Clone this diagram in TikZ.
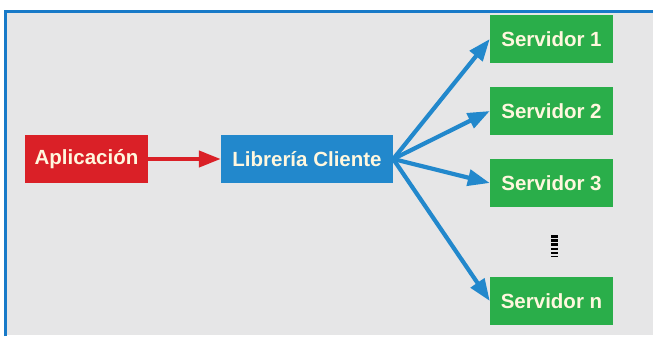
\documentclass[tikz,border=0pt]{standalone}
\usepackage{fontspec}
\setmainfont{Liberation Sans}
\usetikzlibrary{arrows.meta}
\definecolor{bggray}{RGB}{230,230,231}
\definecolor{frameblue}{RGB}{24,122,200}
\definecolor{appred}{RGB}{218,32,39}
\definecolor{libblue}{RGB}{34,136,204}
\definecolor{srvgreen}{RGB}{42,174,74}
\definecolor{txtcream}{RGB}{255,247,222}

\begin{document}
\begin{tikzpicture}[x=1pt, y=-1pt, >={Triangle[length=22pt,width=16pt]},
    box/.style={minimum height=48pt, inner sep=0pt, text=txtcream,
      font=\fontsize{20.5}{21}\selectfont\bfseries},
    link/.style={->, line width=4.2pt}]
    \useasboundingbox (0,0) rectangle (653,341);
    \fill[bggray] (7,12) rectangle (653,335);
    \draw[frameblue, line width=3pt] (5.5,336) -- (5.5,11) -- (653,11);
    \node[box, fill=appred, minimum width=123pt] (app) at (86.5,159) {Aplicación};
    \node[box, fill=libblue, minimum width=172pt] (lib) at (307,159) {Librería Cliente};
    \node[box, fill=srvgreen, minimum width=123pt] (s1) at (551.5,39) {Servidor 1};
    \node[box, fill=srvgreen, minimum width=123pt] (s2) at (551.5,111) {Servidor 2};
    \node[box, fill=srvgreen, minimum width=123pt] (s3) at (551.5,183) {Servidor 3};
    \node[box, fill=srvgreen, minimum width=123pt] (sn) at (551.5,301) {Servidor n};
    \coordinate (dtop) at (554.5,235);
    \coordinate (dbot) at (554.5,257);
    \draw[line width=6.5pt, dash pattern=on 2.6pt off 1.6pt] (dtop) -- (dbot);
    \draw[link, appred] (app) -- (lib);
    \draw[link, libblue] (lib.east) -- (s1.west);
    \draw[link, libblue] (lib.east) -- (s2.west);
    \draw[link, libblue] (lib.east) -- (s3.west);
    \draw[link, libblue] (lib.east) -- (sn.west);
\end{tikzpicture}
\end{document}
